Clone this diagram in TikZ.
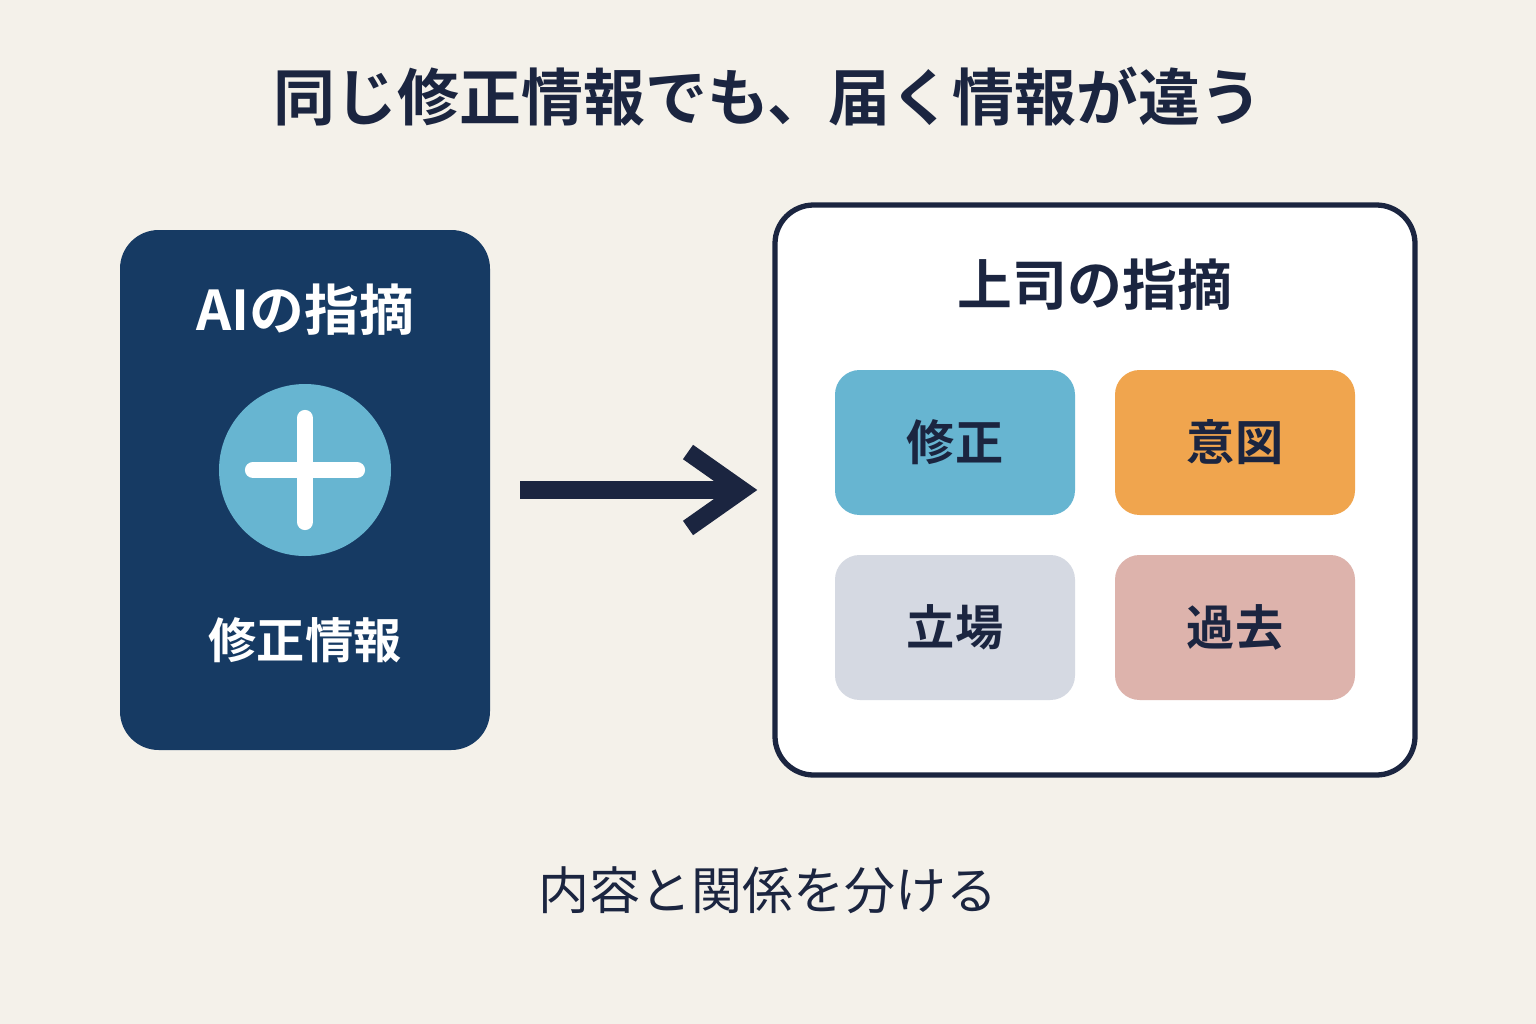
\documentclass[tikz,border=0pt]{standalone}
\usepackage{fontspec}
\setmainfont{Noto Sans CJK JP}[BoldFont={Noto Sans CJK JP Bold}]
\begin{document}
\definecolor{bg}{HTML}{F4F1EA}
\definecolor{ink}{HTML}{1B2540}
\definecolor{navy}{HTML}{163A63}
\definecolor{sky}{HTML}{67B5D1}
\definecolor{org}{HTML}{F0A54E}
\definecolor{gry}{HTML}{D5D9E2}
\definecolor{pnk}{HTML}{DDB3AC}
\begin{tikzpicture}[x=0.01cm,y=-0.01cm,
  lbl/.style={font=\fontsize{15.6}{18}\selectfont\bfseries},
  cell/.style={font=\fontsize{13.7}{16}\selectfont\bfseries,text=ink},
  plusline/.style={white,line width=4.6pt,line cap=round}]
\fill[bg] (0,0) rectangle (1536,1024);
\useasboundingbox (0,0) rectangle (1536,1024);
\node[font=\fontsize{17.6}{20}\selectfont\bfseries,text=ink] (title) at (768,97) {同じ修正情報でも、届く情報が違う};
\fill[navy,rounded corners=11pt] (120,230) rectangle (490,750);
\node[lbl,text=white] (ai) at (305,310) {AIの指摘};
\fill[sky] (305,470) circle (86);
\draw[plusline] (253,470) -- (357,470);
\draw[plusline] (305,418) -- (305,522);
\node[cell,text=white] (info) at (305,640) {修正情報};
\coordinate (a1) at (520,490);
\coordinate (a2) at (742,490);
\draw[ink,line width=5pt] (a1) -- (a2);
\draw[ink,line width=5pt,line join=miter] (688,452) -- (742,490) -- (688,528);
\draw[ink,fill=white,line width=1.5pt,rounded corners=11pt] (775,205) rectangle (1415,775);
\node[lbl,text=ink] (boss) at (1095,285) {上司の指摘};
\fill[sky,rounded corners=7pt] (835,370) rectangle (1075,515);
\fill[org,rounded corners=7pt] (1115,370) rectangle (1355,515);
\fill[gry,rounded corners=7pt] (835,555) rectangle (1075,700);
\fill[pnk,rounded corners=7pt] (1115,555) rectangle (1355,700);
\node[cell] (c1) at (955,442) {修正};
\node[cell] (c2) at (1235,442) {意図};
\node[cell] (c3) at (955,627) {立場};
\node[cell] (c4) at (1235,627) {過去};
\node[font=\fontsize{14.5}{17}\selectfont,text=ink] (foot) at (768,890) {内容と関係を分ける};
\end{tikzpicture}
\end{document}
